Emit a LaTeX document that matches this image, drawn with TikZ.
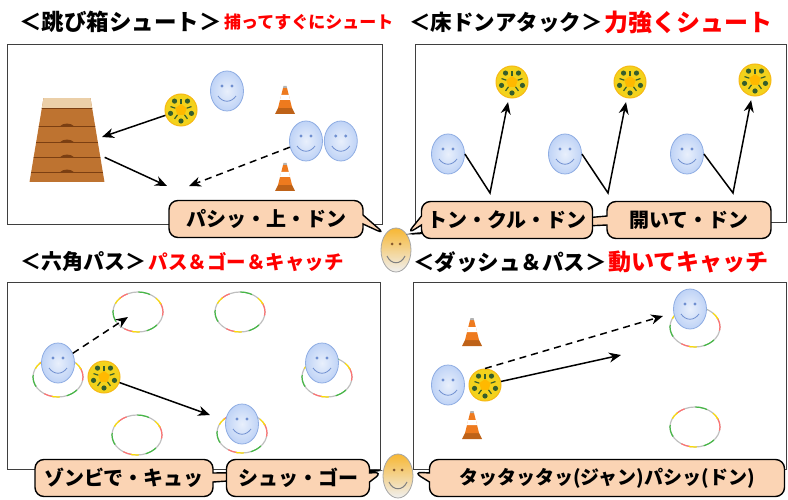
\documentclass[tikz,border=0pt]{standalone}
\usepackage{fontspec}
\newfontfamily\jp{Noto Sans CJK JP}
\usetikzlibrary{arrows.meta, positioning, shapes.geometric, shapes.callouts}

\definecolor{peach}{HTML}{FBD4B4}
\definecolor{facefill}{HTML}{BFD3F6}
\definecolor{facerim}{HTML}{8FADE3}
\definecolor{facedot}{HTML}{6F8FD0}
\definecolor{ballyel}{HTML}{F3D21C}
\definecolor{balldot}{HTML}{355E2C}
\definecolor{vaultbrown}{HTML}{BE7330}
\definecolor{vaultline}{HTML}{7B3F12}
\definecolor{vaulttop}{HTML}{EBCFA8}
\definecolor{conecol}{HTML}{EE7A1E}
\definecolor{coachtop}{HTML}{F7B733}
\definecolor{panelrule}{HTML}{3F3F3F}

\begin{document}
\begin{tikzpicture}[x=1pt, y=-1pt,
    >={Stealth[length=12pt, width=10pt]},
    panel/.style={draw=panelrule, line width=1pt},
    head/.style={font=\jp\bfseries\fontsize{#1}{#1}\selectfont, inner sep=0pt, anchor=west},
    tag/.style={head=#1, text=red},
    shot/.style={->, line width=1.5pt},
    pass/.style={shot, dash pattern=on 7pt off 5pt},
    say/.style={rectangle callout, draw, line width=1.4pt, fill=peach,
                rounded corners=9pt, callout pointer width=9pt,
                minimum height=37pt, font=\jp\bfseries\fontsize{20}{20}\selectfont},
    face/.style={ellipse, draw=facerim, line width=.8pt, minimum width=33pt,
                 minimum height=40pt, inner color=facefill!35, outer color=facefill,
                 path picture={
                   \begin{scope}[shift={(path picture bounding box.center)}, x=1pt, y=1pt]
                     \fill[facedot] (-5,5) circle (1.6) (5,5) circle (1.6);
                     \draw[facedot, line width=.8pt] (-9,-5) .. controls (-4,-12) and (4,-12) .. (9,-5);
                   \end{scope}}},
    coach/.style={ellipse, draw=gray!70, line width=.8pt, minimum width=30pt,
                  minimum height=44pt, top color=coachtop, middle color=white,
                  bottom color=gray!12,
                  path picture={
                    \begin{scope}[shift={(path picture bounding box.center)}, x=1pt, y=1pt]
                      \fill[brown!70!black] (-4,6) circle (1.5) (4,6) circle (1.5);
                      \draw[gray, line width=1pt] (-9,-6) .. controls (-5,-15) and (5,-15) .. (9,-6);
                    \end{scope}}},
    ball/.style={circle, minimum size=32pt, inner sep=0pt, fill=ballyel,
                 draw=ballyel!70!orange, line width=1pt,
                 path picture={
                   \begin{scope}[shift={(path picture bounding box.center)}, x=1pt, y=1pt]
                     \fill[orange!55!yellow] (90:6) -- (162:6) -- (234:6) -- (306:6) -- (18:6) -- cycle;
                     \foreach \a in {90,162,234,306,18}
                       \draw[balldot, line width=1.2pt] (\a:6) -- (\a:11);
                     \foreach \a in {54,126,198,270,342}
                       \fill[balldot] (\a:11) circle (2.6);
                   \end{scope}}},
    cone/.style={minimum width=22pt, minimum height=30pt, inner sep=0pt,
                 path picture={
                   \begin{scope}[shift={(path picture bounding box.center)}, x=1pt, y=1pt]
                     \fill[conecol!80!black] (-10,-14) -- (10,-14) -- (7,-8) -- (-7,-8) -- cycle;
                     \fill[conecol] (-7,-8) -- (7,-8) -- (2,12) -- (-2,12) -- cycle;
                     \fill[white] (-5.1,0) -- (5.1,0) -- (3.9,5) -- (-3.9,5) -- cycle;
                     \fill[gray!60] (-2,12) -- (2,12) -- (1.6,14) -- (-1.6,14) -- cycle;
                   \end{scope}}},
    vault/.style={minimum width=75pt, minimum height=84pt, inner sep=0pt},
    ring/.style={ellipse, minimum width=50pt, minimum height=40pt, draw=gray!50,
                 line width=1.2pt,
                 postaction={draw=red!55, dash pattern=on 10pt off 36pt},
                 postaction={draw=green!45!gray, dash pattern=on 12pt off 34pt, dash phase=23pt},
                 postaction={draw=yellow!80!orange, dash pattern=on 8pt off 38pt, dash phase=38pt}}]

  \useasboundingbox (0,0) rectangle (788,500);

  % headings
  \node[head=22.5] (titleA) at (19,22) {＜跳び箱シュート＞};
  \node[tag=17, right=2pt of titleA] (tagA) {捕ってすぐにシュート};
  \node[head=21.5] (titleB) at (409,22) {＜床ドンアタック＞};
  \node[tag=24, right=1pt of titleB] (tagB) {力強くシュート};
  \node[head=21] (titleC) at (20,262) {＜六角パス＞};
  \node[tag=19.5, right=2pt of titleC] (tagC) {パス＆ゴー＆キャッチ};
  \node[head=21.5] (titleD) at (413,262) {＜ダッシュ＆パス＞};
  \node[tag=23, right=1pt of titleD] (tagD) {動いてキャッチ};

  % panels
  \draw[panel] (7,45) rectangle (382,225);
  \draw[panel] (415,45) rectangle (786,223);
  \draw[panel] (7,282) rectangle (380,469);
  \draw[panel] (413,282) rectangle (786,469);

  % vault shot
  \node[vault] (vault) at (67,140) {};
  \begin{scope}[shift={(vault.south)}, y=1pt]
    \clip (-37.5,0) -- (37.5,0) -- (23.5,84) -- (-23.5,84) -- cycle;
    \fill[vaultbrown] (-40,0) rectangle (40,84);
    \fill[vaulttop] (-40,74) rectangle (40,84);
    \draw[vaultline, line width=1pt] (-40,74) -- (40,74);
    \foreach \h in {10,25,40,56} {
      \draw[vaultline, line width=1pt] (-40,\h) -- (40,\h);
      \fill[vaultline] (-7,\h) .. controls (-4,\h+3.5) and (4,\h+3.5) .. (7,\h) -- cycle;
    }
  \end{scope}
  \node[ball] (ballA) at (181,110) {};
  \node[face] (kidA) at (227,91) {};
  \node[cone] (coneA) at (285,100) {};
  \node[face] (kidB) at (306,141) {};
  \node[face, right=1pt of kidB] (kidC) {};
  \node[cone] (coneB) at (285,177) {};
  \coordinate (hitA) at (102,137);
  \coordinate (landA) at (167,186);
  \coordinate (landB) at (189,186);
  \draw[shot] (ballA) -- (hitA);
  \draw[shot] (vault) -- (landA);
  \draw[pass] (kidB) -- (landB);

  % floor attack
  \node[face] (kidD) at (448,154) {};
  \node[ball] (ballD) at (512,82) {};
  \coordinate (kneeD) at (490,193);
  \draw[shot, shorten >=4pt] (kidD.east) -- (kneeD) -- (ballD);
  \node[face] (kidE) at (565,154) {};
  \node[ball] (ballE) at (630,82) {};
  \coordinate (kneeE) at (608,193);
  \draw[shot, shorten >=4pt] (kidE.east) -- (kneeE) -- (ballE);
  \node[face] (kidF) at (687,154) {};
  \node[ball] (ballF) at (755,80) {};
  \coordinate (kneeF) at (733,193);
  \draw[shot, shorten >=4pt] (kidF.east) -- (kneeF) -- (ballF);

  % hexagon pass
  \node[ring] (ringA) at (138,312) {};
  \node[ring] (ringB) at (240,312) {};
  \node[ring] (ringC) at (58,377) {};
  \node[ring] (ringD) at (327,377) {};
  \node[ring] (ringE) at (137,435) {};
  \node[ring] (ringF) at (242,433) {};
  \node[face] (kidG) at (58,363) {};
  \node[face] (kidH) at (322,363) {};
  \node[face] (kidI) at (242,424) {};
  \node[ball] (ballG) at (104,377) {};
  \coordinate (aimG) at (128,317);
  \coordinate (aimH) at (210,415);
  \draw[pass] (kidG) -- (aimG);
  \draw[shot] (ballG) -- (aimH);

  % dash and pass
  \node[cone] (coneC) at (472,332) {};
  \node[cone] (coneD) at (472,425) {};
  \node[face] (kidJ) at (448,385) {};
  \node[ball] (ballJ) at (485,385) {};
  \node[ring] (ringG) at (695,327) {};
  \node[face] (kidK) at (690,309) {};
  \node[ring] (ringH) at (695,427) {};
  \coordinate (aimJ) at (663,316);
  \coordinate (aimK) at (621,355);
  \draw[pass] (ballJ.north) -- (aimJ);
  \draw[shot] (ballJ) -- (aimK);

  % coach and calls
  \node[coach] (coachT) at (396,250) {};
  \node[coach] (coachB) at (398,476) {};
  \node[say, minimum width=194pt, callout absolute pointer={(coachT.north west)}] (callA) at (266,219) {パシッ・上・ドン};
  \node[say, minimum width=164pt, callout absolute pointer={(coachT.north east)}] (callC) at (689,220) {開いて・ドン};
  \node[say, minimum width=171pt, callout absolute pointer={(coachT.north east)}] (callB) at (507,220) {トン・クル・ドン};
  \node[say, minimum width=178pt, callout absolute pointer={(coachB.160)}] (callD) at (124,478) {ゾンビで・キュッ};
  \node[say, minimum width=143pt, callout absolute pointer={(coachB.165)}] (callE) at (298,478) {シュッ・ゴー};
  \node[say, minimum width=355pt, font=\jp\bfseries\fontsize{19}{19}\selectfont,
        callout absolute pointer={(coachB.15)}] (callF) at (607,478) {タッタッタッ(ジャン)パシッ(ドン)};
\end{tikzpicture}
\end{document}
